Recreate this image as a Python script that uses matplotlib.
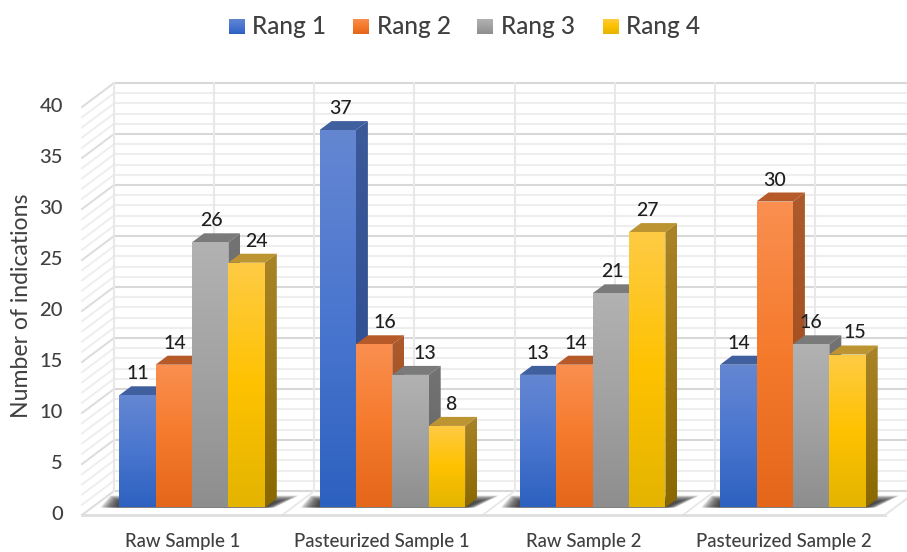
import numpy as np
import matplotlib
matplotlib.use("Agg")
import matplotlib.pyplot as plt
from matplotlib.colors import LinearSegmentedColormap
from matplotlib.patches import Polygon
from matplotlib.transforms import Affine2D

plt.rcParams["font.family"] = ["Lato", "DejaVu Sans"]

categories = ["Raw Sample 1", "Pasteurized Sample 1", "Raw Sample 2", "Pasteurized Sample 2"]
series_names = ["Rang 1", "Rang 2", "Rang 3", "Rang 4"]
rang_1 = [11, 37, 13, 14]
rang_2 = [14, 16, 14, 30]
rang_3 = [26, 13, 21, 16]
rang_4 = [24, 8, 27, 15]
y_ticks = [0, 5, 10, 15, 20, 25, 30, 35, 40]

W, H = 907, 552
# pixels per category / per value unit
CAT_PX = 200.3
VAL_PX = 10.2
CENTER_PX = 192.0
BASE_PX = 507.5
BAR_W = 36.4 / CAT_PX
BAR_DX = 12.0 / CAT_PX
BAR_DY = 9.0 / VAL_PX
# floor runs from the front edge to the back wall
FLOOR_FRONT = 7.5 / VAL_PX
FLOOR_BACK = 16.5 / VAL_PX

front_colors = [
    ["#6587d2", "#4a76cf", "#2d61c0"],
    ["#fa8f50", "#f57a2c", "#e4661a"],
    ["#b2b2b2", "#a2a2a2", "#8e8e8e"],
    ["#ffcb45", "#fec200", "#e4b400"],
]
side_colors = [
    ["#3c5a9a", "#2b4a8c"],
    ["#ad5a2c", "#9a4a1c"],
    ["#737373", "#636363"],
    ["#a98428", "#8a6800"],
]
top_colors = ["#3f5f9f", "#b65a2a", "#7a7a7a", "#bd9432"]
label_nudge = [
    [0, 1, 1, 10],
    [3, 11, 14, 4],
    [0, 1, 2, 0],
    [1, 0, 0, 7],
]
category_nudge = [-9, -10, -9, -9]

fig = plt.figure(figsize=(W / 100, H / 100), dpi=100, facecolor="white")
ax = fig.add_axes([0, 0, 1, 1])
ax.set_xlim(-CENTER_PX / CAT_PX, (W - CENTER_PX) / CAT_PX)
ax.set_ylim((BASE_PX - H) / VAL_PX, BASE_PX / VAL_PX)
ax.axis("off")
limits = ax.get_xlim(), ax.get_ylim()

# pixel coordinates, origin top left, for text placement
px = Affine2D().scale(1 / W, -1 / H).translate(0, 1) + fig.transFigure


def gradient_face(points, colors, zorder):
    xs = [p[0] for p in points]
    ys = [p[1] for p in points]
    cmap = LinearSegmentedColormap.from_list("face", colors)
    grad = np.linspace(0, 1, 128).reshape(-1, 1)
    im = ax.imshow(grad, cmap=cmap, aspect="auto", origin="upper", zorder=zorder,
                   extent=(min(xs), max(xs), min(ys), max(ys)), interpolation="bilinear")
    clip = Polygon(points, closed=True, transform=ax.transData)
    im.set_clip_path(clip)


def draw_walls():
    minor = "#eeeeee"
    major = "#d8d8d8"
    right = ax.get_xlim()[1]
    wall_left = -CENTER_PX / CAT_PX + 114 / CAT_PX
    front_left = -CENTER_PX / CAT_PX + 82 / CAT_PX
    front_right = -CENTER_PX / CAT_PX + 885 / CAT_PX
    for v in np.arange(0, 41):
        is_major = v % 5 == 0
        color = major if is_major else minor
        y_back = v + FLOOR_BACK
        y_front = v - FLOOR_FRONT
        ax.plot([wall_left, right], [y_back, y_back], color=color, lw=1.5, zorder=1)
        ax.plot([front_left, wall_left], [y_front, y_back],
                color="#dcdcdc" if is_major else minor, lw=1.4, zorder=1)
    # vertical wall lines, two per category
    for k in range(0, 8):
        x = wall_left + k * 0.5
        ax.plot([x, x], [FLOOR_BACK, 40 + FLOOR_BACK], color="#e8e8e8", lw=1.5, zorder=1)
        if k % 2 == 0 and k > 0:
            x0 = x - 32 / CAT_PX
            ax.plot([x0, x], [-FLOOR_FRONT, FLOOR_BACK], color="#e6e6e6", lw=1.2, zorder=1)
    ax.plot([front_left, front_right], [-FLOOR_FRONT, -FLOOR_FRONT], color="#dedede", lw=2, zorder=1)
    ax.plot([front_right, front_right + 32 / CAT_PX], [-FLOOR_FRONT, FLOOR_BACK],
            color="#e6e6e6", lw=1.5, zorder=1)


def draw_shadow(i):
    # stacked translucent layers give the floor shadow a soft edge
    left = i - 2 * BAR_W
    right = i + 2 * BAR_W
    layers = 16
    for k in range(layers):
        grow = (layers - 1 - k) / (layers - 1)
        depth = (6 + 6 * grow) / VAL_PX
        pts = [
            (left - (2 + 17 * grow) / CAT_PX, 0),
            (right + (1 + 9 * grow) / CAT_PX, 0),
            (right + (14 + 20 * grow) / CAT_PX, depth),
            (left - (0 + 9 * grow) / CAT_PX, depth),
        ]
        ax.add_patch(Polygon(pts, closed=True, facecolor="#303030", edgecolor="none",
                             alpha=0.11, zorder=2))


def draw_bar(x0, value, s):
    x1 = x0 + BAR_W
    top = [(x0, value), (x1, value), (x1 + BAR_DX, value + BAR_DY), (x0 + BAR_DX, value + BAR_DY)]
    side = [(x1, 0), (x1 + BAR_DX, BAR_DY), (x1 + BAR_DX, value + BAR_DY), (x1, value)]
    front = [(x0, 0), (x1, 0), (x1, value), (x0, value)]
    ax.add_patch(Polygon(top, closed=True, facecolor=top_colors[s], edgecolor="none", zorder=3 + s))
    gradient_face(side, side_colors[s], 3 + s)
    gradient_face(front, front_colors[s], 3 + s)


draw_walls()
values = [rang_1, rang_2, rang_3, rang_4]
for i in range(len(categories)):
    draw_shadow(i)
    for s in range(len(series_names)):
        draw_bar(i + (s - 2) * BAR_W, values[s][i], s)

for i in range(len(categories)):
    for s in range(len(series_names)):
        v = values[s][i]
        lx = i + (s - 1.5) * BAR_W + label_nudge[i][s] / CAT_PX
        ax.text(lx, v + BAR_DY + 12.5 / VAL_PX, str(v), ha="center", va="center",
                fontsize=14, fontweight="medium", color="#1f1f1f", zorder=10)

ax.set_xlim(*limits[0])
ax.set_ylim(*limits[1])

# value axis labels sit on the front edge of the side wall
for v in y_ticks:
    ax.text(63, 515 - v * 10.22, str(v), transform=px, ha="right", va="center",
            fontsize=14.5, fontweight="medium", color="#404040")
ax.text(22, 306, "Number of indications", transform=px, rotation=90, ha="center", va="center",
        fontsize=16.6, color="#404040")

for i, name in enumerate(categories):
    ax.text(CENTER_PX + i * CAT_PX + category_nudge[i], 541, name, transform=px, ha="center",
            va="center", fontsize=13.4, fontweight="medium", color="#404040")

swatch_x = [229, 353, 477, 603]
text_x = [252, 377, 501, 626]
for s, name in enumerate(series_names):
    sw = fig.add_axes([swatch_x[s] / W, 1 - 34.5 / H, 16 / W, 15.5 / H])
    cmap = LinearSegmentedColormap.from_list("swatch", front_colors[s])
    sw.imshow(np.linspace(0, 1, 64).reshape(-1, 1), cmap=cmap, aspect="auto")
    sw.axis("off")
    ax.text(text_x[s], 26.5, name, transform=px, ha="left", va="center",
            fontsize=17.6, fontweight="medium", color="#404040")

fig.savefig("out.png", dpi=100, facecolor="white")
